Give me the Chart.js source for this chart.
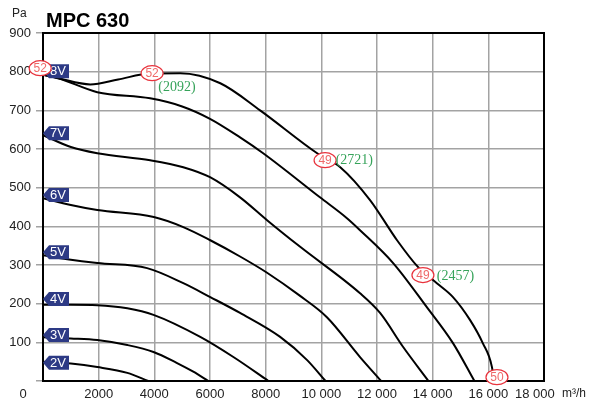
<!DOCTYPE html>
<html>
<head>
<meta charset="utf-8">
<script src="https://cdn.jsdelivr.net/npm/chart.js@4.4.1/dist/chart.umd.min.js"></script>
<style>
  html, body { margin: 0; padding: 0; background: #fff; }
</style>
</head>
<body>
<canvas id="myChart" width="592" height="401"></canvas>
<script>
// Data: fan curves, [airflow m3/h, pressure Pa]
let curve2V = [[0, 50], [1000, 45], [1950, 36], [3030, 21], [3780, 0]];
let curve3V = [[0, 113], [1000, 110], [1950, 106], [3030, 93], [3970, 75], [4800, 47], [5400, 24], [5940, 0]];
let curve4V = [[0, 197], [1000, 197], [1950, 196], [3030, 188], [3970, 171], [5650, 114], [6840, 62], [8100, 0]];
let curve5V = [[0, 325], [870, 315], [1950, 305], [3740, 292], [5040, 253], [6010, 217], [7080, 176], [8520, 114], [9490, 54], [10150, 0]];
let curve6V = [[0, 473], [1000, 455], [1950, 442], [3980, 424], [5040, 398], [6010, 364], [7080, 322], [8050, 280], [9200, 222], [10200, 165], [11390, 62], [12150, 0]];
let curve7V = [[0, 636], [1000, 605], [1950, 589], [3850, 571], [5040, 553], [6000, 527], [7080, 475], [8050, 416], [9240, 347], [11390, 227], [12110, 176], [12940, 88], [13850, 0]];
let curve8V = [[0, 792], [550, 783], [1950, 747], [3850, 731], [5000, 710], [6000, 678], [7080, 630], [7910, 589], [9950, 475], [10920, 421], [11390, 390], [12580, 305], [13790, 191], [14730, 98], [15500, 0]];
let curveMax = [[0, 792], [550, 783], [1700, 767], [2700, 780], [3850, 795], [4930, 796], [6370, 770], [7800, 700], [9850, 589], [10680, 553], [11750, 468], [12720, 364], [13470, 295], [14150, 253], [14730, 217], [15340, 158], [15800, 98], [16130, 36], [16200, 0]];

let xTicks = [0, 2000, 4000, 6000, 8000, 10000, 12000, 14000, 16000, 18000];
let yTicks = [0, 100, 200, 300, 400, 500, 600, 700, 800, 900];

let voltNames = ['2V', '3V', '4V', '5V', '6V', '7V', '8V'];
let voltY = [47, 119, 212, 333, 481, 641, 801];

let noiseText = ['52', '52', '49', '49', '50'];
let noiseX = [-100, 3920, 10135, 13650, 16310];
let noiseY = [809, 796, 571, 274, 10];

let flowText = ['(2092)', '(2721)', '(2457)'];
let flowX = [4140, 10515, 14150];
let flowY = [760, 571, 271];

//Helpers
let toPts = (arr) => arr.map(p => ({x: p[0], y: p[1]}));
let fmt = (v) => v >= 10000 ? String(v).replace(/(\d{3})$/, ' $1') : String(v);

let FONT = "'Liberation Sans', Arial, Helvetica, sans-serif";
Chart.defaults.font.family = FONT;

let allCurves = [curve2V, curve3V, curve4V, curve5V, curve6V, curve7V, curve8V, curveMax];

let extras = {
  id: 'extras',
  beforeDraw(chart) {
    let c = chart.ctx;
    c.save();
    c.fillStyle = '#fff';
    c.fillRect(0, 0, chart.width, chart.height);
    c.restore();
  },
  afterDatasetsDraw(chart) {
    let c = chart.ctx;
    let a = chart.chartArea;
    let xs = chart.scales.x, ys = chart.scales.y;
    c.save();
    // frame
    c.strokeStyle = '#000';
    c.lineWidth = 2;
    c.strokeRect(a.left, a.top, a.right - a.left, a.bottom - a.top);

    // voltage tags
    c.font = '13px ' + FONT;
    c.textBaseline = 'middle';
    c.textAlign = 'left';
    voltNames.forEach((t, i) => {
      let x0 = xs.getPixelForValue(0);
      let cy = ys.getPixelForValue(voltY[i]);
      c.fillStyle = '#2d3a85';
      c.beginPath();
      c.moveTo(x0, cy);
      c.lineTo(x0 + 6, cy - 7);
      c.lineTo(x0 + 26, cy - 7);
      c.lineTo(x0 + 26, cy + 7);
      c.lineTo(x0 + 6, cy + 7);
      c.closePath();
      c.fill();
      c.fillStyle = '#fff';
      c.fillText(t, x0 + 7, cy + 0.5);
    });

    // noise ellipses
    c.font = '12px ' + FONT;
    c.textAlign = 'center';
    noiseText.forEach((t, i) => {
      let px = xs.getPixelForValue(noiseX[i]);
      let py = ys.getPixelForValue(noiseY[i]);
      c.beginPath();
      c.ellipse(px, py, 11, 7.5, 0, 0, Math.PI * 2);
      c.fillStyle = '#fff';
      c.fill();
      c.strokeStyle = '#e8323c';
      c.lineWidth = 1.2;
      c.stroke();
      c.fillStyle = '#ef6a6a';
      c.fillText(t, px, py + 0.5);
    });

    // flow numbers
    c.font = "14px 'Liberation Serif', 'DejaVu Serif', serif";
    c.textAlign = 'left';
    c.fillStyle = '#36a35a';
    flowText.forEach((t, i) => {
      c.fillText(t, xs.getPixelForValue(flowX[i]), ys.getPixelForValue(flowY[i]));
    });

    // title and axis texts
    c.fillStyle = '#000';
    c.textBaseline = 'alphabetic';
    c.font = 'bold 20px ' + FONT;
    c.fillText('MPC 630', 46, 27);
    c.fillStyle = '#222';
    c.font = '12px ' + FONT;
    c.fillText('Pa', 12, 17);
    c.font = '13px ' + FONT;
    c.textBaseline = 'middle';
    c.textAlign = 'center';
    c.fillText('0', 23, 394);
    c.textAlign = 'left';
    c.fillText('18 000', 515, 394);
    c.font = '12px ' + FONT;
    c.fillText('m\u00b3/h', 562, 394);
    c.restore();
  }
};

var ctx = document.getElementById('myChart').getContext('2d');
var myChart = new Chart(ctx, {
  type: 'line',
  data: {
    datasets: allCurves.map(cv => ({
      data: toPts(cv),
      borderColor: '#000',
      borderWidth: 2,
      pointRadius: 0,
      fill: false,
      cubicInterpolationMode: 'monotone'
    }))
  },
  options: {
    responsive: false,
    animation: false,
    layout: { padding: { left: 0, top: 33, right: 48, bottom: 0 } },
    plugins: { legend: { display: false }, tooltip: { enabled: false } },
    scales: {
      x: {
        type: 'linear',
        min: 0, max: 18000,
        afterBuildTicks: (s) => { s.ticks = xTicks.map(v => ({value: v})); },
        afterFit: (s) => { s.height = 20; },
        grid: { color: '#a3a3a3', lineWidth: 1.5, drawTicks: false },
        border: { display: false },
        ticks: {
          padding: 6,
          color: '#222',
          font: { size: 13 },
          maxRotation: 0,
          autoSkip: false,
          callback: (v) => (v === 0 || v === 18000) ? '' : fmt(v)
        }
      },
      y: {
        min: 0, max: 900,
        afterBuildTicks: (s) => { s.ticks = yTicks.map(v => ({value: v})); },
        afterFit: (s) => { s.width = 43; },
        grid: { color: '#a3a3a3', lineWidth: 1.5, tickLength: 7, tickColor: '#a3a3a3' },
        border: { display: false },
        ticks: {
          padding: 5,
          color: '#222',
          font: { size: 13 },
          callback: (v) => v === 0 ? '' : String(v)
        }
      }
    }
  },
  plugins: [extras]
});
</script>
</body>
</html>
